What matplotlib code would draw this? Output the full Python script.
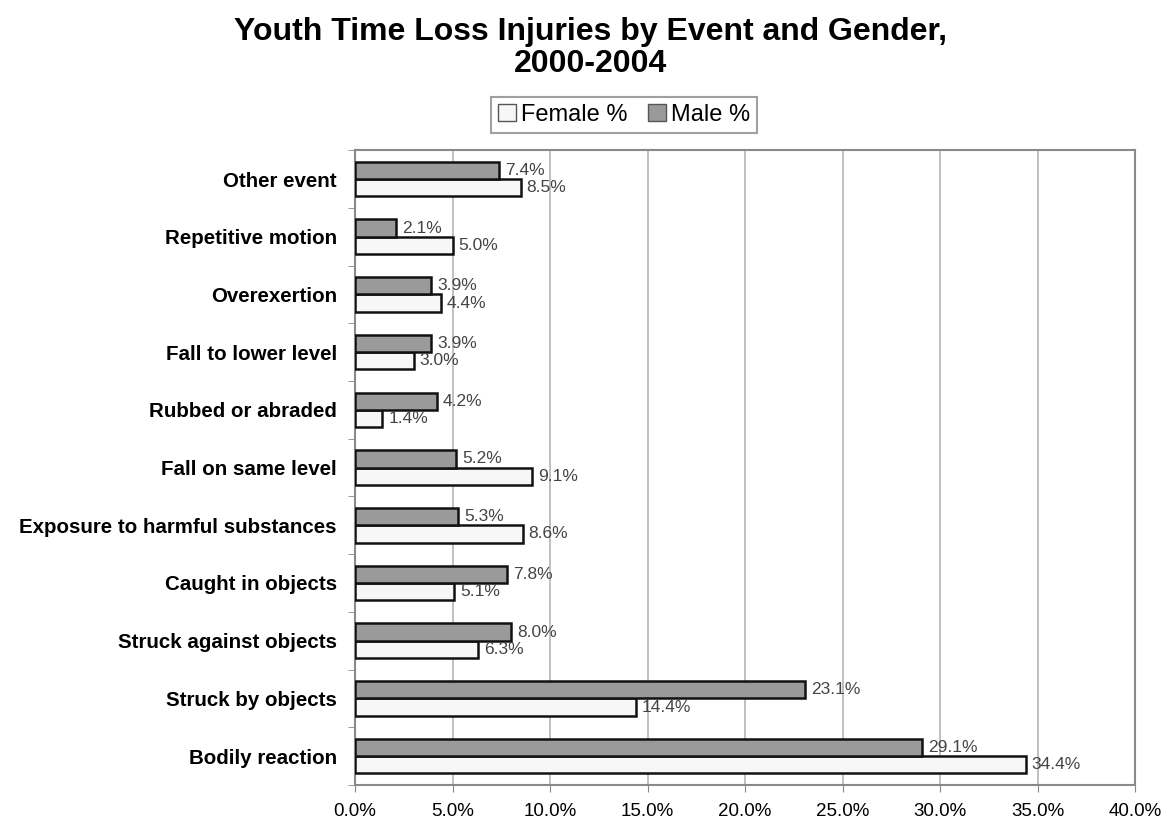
import matplotlib
matplotlib.use("Agg")
import matplotlib.pyplot as plt
import numpy as np
from matplotlib.ticker import FuncFormatter

plt.rcParams['font.family'] = ['Liberation Sans', 'DejaVu Sans']

categories = ["Bodily reaction", "Struck by objects", "Struck against objects",
              "Caught in objects", "Exposure to harmful substances",
              "Fall on same level", "Rubbed or abraded", "Fall to lower level",
              "Overexertion", "Repetitive motion", "Other event"]
female_pct = [34.4, 14.4, 6.3, 5.1, 8.6, 9.1, 1.4, 3.0, 4.4, 5.0, 8.5]
male_pct = [29.1, 23.1, 8.0, 7.8, 5.3, 5.2, 4.2, 3.9, 3.9, 2.1, 7.4]
x_ticks = [0, 5, 10, 15, 20, 25, 30, 35, 40]

fig = plt.figure(figsize=(11.71, 8.25), dpi=100)
ax = fig.add_axes([0.3032, 0.0485, 0.6661, 0.7695])

y = np.arange(len(categories))
h = 0.3
fb = ax.barh(y - h / 2, female_pct, height=h, color="#f7f7f7", edgecolor="#111111",
             linewidth=1.8, label="Female %", zorder=3)
mb = ax.barh(y + h / 2, male_pct, height=h, color="#9a9a9a", edgecolor="#111111",
             linewidth=1.8, label="Male %", zorder=3)

for bars, vals in ((fb, female_pct), (mb, male_pct)):
    for b, v in zip(bars, vals):
        ax.text(v + 0.3, b.get_y() + b.get_height() / 2, f"{v:.1f}%",
                va="center", ha="left", fontsize=12.5, color="#444444", zorder=4)

ax.set_xlim(0, 40)
ax.set_ylim(-0.5, len(categories) - 0.5)
ax.set_xticks(x_ticks)
ax.xaxis.set_major_formatter(FuncFormatter(lambda v, p: f"{v:.1f}%"))
ax.grid(axis="x", color="#b5b5b5", linewidth=1.2, zorder=0)

ax.set_yticks(y)
ax.set_yticklabels(categories, fontsize=14.8, fontweight="bold")
ax.set_yticks(np.arange(-0.5, len(categories), 1.0), minor=True)
ax.tick_params(axis="y", which="major", length=0, pad=13)
ax.tick_params(axis="y", which="minor", length=5, color="#888888")
ax.tick_params(axis="x", length=5, color="#888888", labelsize=13.5, pad=8)

for s in ax.spines.values():
    s.set_color("#8a8a8a")
    s.set_linewidth(1.5)

fig.text(0.504, 0.942, "Youth Time Loss Injuries by Event and Gender,\n2000-2004",
         ha="center", va="center", fontsize=23, fontweight="bold", linespacing=1.1)

leg = fig.legend(handles=[fb, mb], loc="center", bbox_to_anchor=(0.533, 0.861), ncol=2,
                 frameon=True, fancybox=False, fontsize=17, handlelength=0.75,
                 handleheight=0.75, handletextpad=0.2, columnspacing=0.9,
                 borderpad=0.3, edgecolor="#888888")
leg.get_frame().set_linewidth(1.5)
for p in leg.get_patches():
    p.set_linewidth(1.0)
    p.set_edgecolor("#555555")

fig.savefig("out.png", dpi=100)
